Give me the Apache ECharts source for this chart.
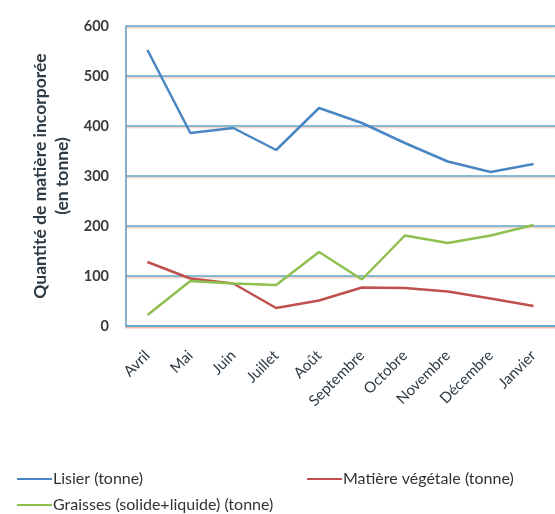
<!DOCTYPE html>
<html>
<head>
<meta charset="utf-8">
<script src="https://cdn.jsdelivr.net/npm/echarts@6/dist/echarts.min.js"></script>
<style>
  html, body { margin: 0; padding: 0; background: #ffffff; }
  #chart { width: 555px; height: 514px; }
</style>
</head>
<body>
<div id="chart"></div>
<script>
// Monthly incorporated material, in tonnes
const months = ['Avril', 'Mai', 'Juin', 'Juillet', 'Août', 'Septembre', 'Octobre', 'Novembre', 'Décembre', 'Janvier'];
const lisier = [552, 386, 396, 352, 436, 406, 366, 329, 308, 324];
const matiereVegetale = [128, 95, 85, 36, 51, 77, 76, 69, 55, 40];
const graisses = [22, 90, 85, 82, 148, 93, 181, 166, 181, 202];
const yTicks = [0, 100, 200, 300, 400, 500, 600];

const seriesNames = ['Lisier (tonne)', 'Matière végétale (tonne)', 'Graisses (solide+liquide) (tonne)'];
const colors = ['#4a86c3', '#c0504d', '#8fbf4f'];

const chart = echarts.init(document.getElementById('chart'));
const font = 'Lato, "Open Sans", sans-serif';

const gridLine = {
  color: '#5ea6ca',
  width: 1.5,
  shadowColor: 'rgba(235,140,110,0.45)',
  shadowBlur: 1,
  shadowOffsetY: 1.5
};

function lineSeries(name, data, color) {
  return {
    name: name,
    type: 'line',
    data: data,
    symbol: 'none',
    lineStyle: { color: color, width: 2.5 },
    itemStyle: { color: color }
  };
}

// One legend block per entry so each can sit at its own spot
function legendAt(name, left, top) {
  return {
    data: [name],
    left: left,
    top: top,
    itemWidth: 35,
    itemHeight: 2,
    icon: 'rect',
    textStyle: { color: '#333333', fontSize: 16, fontFamily: font, padding: [0, 0, 0, -4] }
  };
}

chart.setOption({
  animation: false,
  backgroundColor: '#ffffff',
  textStyle: { fontFamily: font },
  grid: { left: 126, right: 0, top: 26, bottom: 188 },
  xAxis: {
    type: 'category',
    data: months,
    boundaryGap: true,
    axisLine: { show: true, lineStyle: gridLine },
    axisTick: { show: false },
    axisLabel: {
      rotate: 45,
      interval: 0,
      color: '#2e3a44',
      fontSize: 15,
      fontFamily: font,
      margin: 27
    }
  },
  yAxis: {
    type: 'value',
    min: yTicks[0],
    max: yTicks[yTicks.length - 1],
    interval: 100,
    name: 'Quantité de matière incorporée\n(en tonne)',
    nameLocation: 'middle',
    nameGap: 53,
    nameRotate: 90,
    nameTextStyle: {
      color: '#2e3a44',
      fontSize: 17.5,
      fontWeight: 'bold',
      fontFamily: font,
      lineHeight: 22
    },
    axisLine: { show: true, lineStyle: gridLine },
    axisTick: { show: false },
    axisLabel: {
      color: '#3a3a3a',
      fontSize: 14.5,
      fontWeight: 'bold',
      fontFamily: font,
      margin: 17
    },
    splitLine: { lineStyle: gridLine }
  },
  legend: [
    legendAt(seriesNames[0], 12, 466),
    legendAt(seriesNames[1], 302, 466),
    legendAt(seriesNames[2], 12, 492)
  ],
  series: [
    lineSeries(seriesNames[0], lisier, colors[0]),
    lineSeries(seriesNames[1], matiereVegetale, colors[1]),
    lineSeries(seriesNames[2], graisses, colors[2])
  ]
});
</script>
</body>
</html>
